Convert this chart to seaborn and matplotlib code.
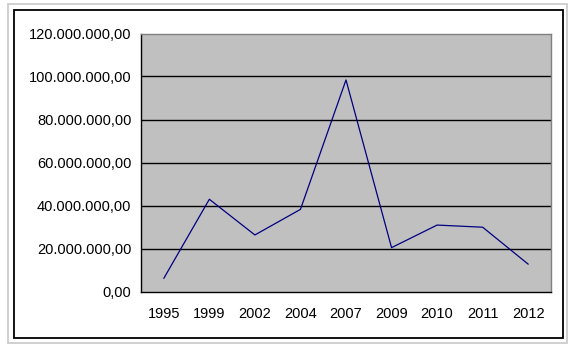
import matplotlib
matplotlib.use("Agg")
import matplotlib.pyplot as plt
import seaborn as sns
import pandas as pd
from matplotlib.patches import Rectangle
from matplotlib.ticker import FuncFormatter, FixedLocator

years = ["1995", "1999", "2002", "2004", "2007", "2009", "2010", "2011", "2012"]
values = [6.1e6, 42.9e6, 26.3e6, 38.2e6, 98.4e6, 20.4e6, 30.9e6, 29.9e6, 12.7e6]
y_ticks = [0, 20e6, 40e6, 60e6, 80e6, 100e6, 120e6]

sns.set_style("white")
plt.rcParams['font.family'] = ['Liberation Sans', 'DejaVu Sans']

W, H = 584, 353
fig = plt.figure(figsize=(W / 100, H / 100), dpi=100)

# outer borders
fig.patches.append(Rectangle((8 / W, 1 - 343 / H), (567 - 8) / W, (343 - 4) / H,
                             transform=fig.transFigure, fill=False,
                             edgecolor="#c8c8c8", lw=1.2))
fig.patches.append(Rectangle((14 / W, 1 - 338 / H), (563 - 14) / W, (338 - 10) / H,
                             transform=fig.transFigure, fill=False,
                             edgecolor="black", lw=1.3))

left, right, top, bottom = 141, 551, 33.5, 291.5
ax = fig.add_axes([left / W, 1 - bottom / H, (right - left) / W, (bottom - top) / H])
ax.set_facecolor("#c0c0c0")

df = pd.DataFrame({"year": years, "value": values})
sns.lineplot(data=df, x="year", y="value", ax=ax, color="#000080", lw=0.9)

ax.set_xlim(-0.5, len(years) - 0.5)
ax.set_ylim(0, 120e6)
ax.set_yticks(y_ticks)
ax.yaxis.set_major_formatter(FuncFormatter(
    lambda v, p: f"{v:,.2f}".replace(",", "X").replace(".", ",").replace("X", ".")))
ax.set_xticks(range(len(years)))
ax.set_xticklabels(years)
ax.xaxis.set_minor_locator(FixedLocator([i - 0.5 for i in range(len(years) + 1)]))
ax.tick_params(axis="x", which="major", length=0, pad=11, labelsize=10.5, labelcolor="black")
ax.tick_params(axis="x", which="minor", length=4, width=1, color="black", direction="out")
ax.tick_params(axis="y", which="major", length=4, width=1, color="black",
               direction="out", pad=3, labelsize=10.5, labelcolor="black")
ax.set_xlabel("")
ax.set_ylabel("")

for v in y_ticks[1:-1]:
    ax.axhline(v, color="black", lw=1, zorder=1)

for s in ["top", "right"]:
    ax.spines[s].set_color("#808080")
    ax.spines[s].set_linewidth(1)
for s in ["left", "bottom"]:
    ax.spines[s].set_color("black")
    ax.spines[s].set_linewidth(1)
for s in ax.spines.values():
    s.set_visible(True)

fig.savefig("out.png", dpi=100)
